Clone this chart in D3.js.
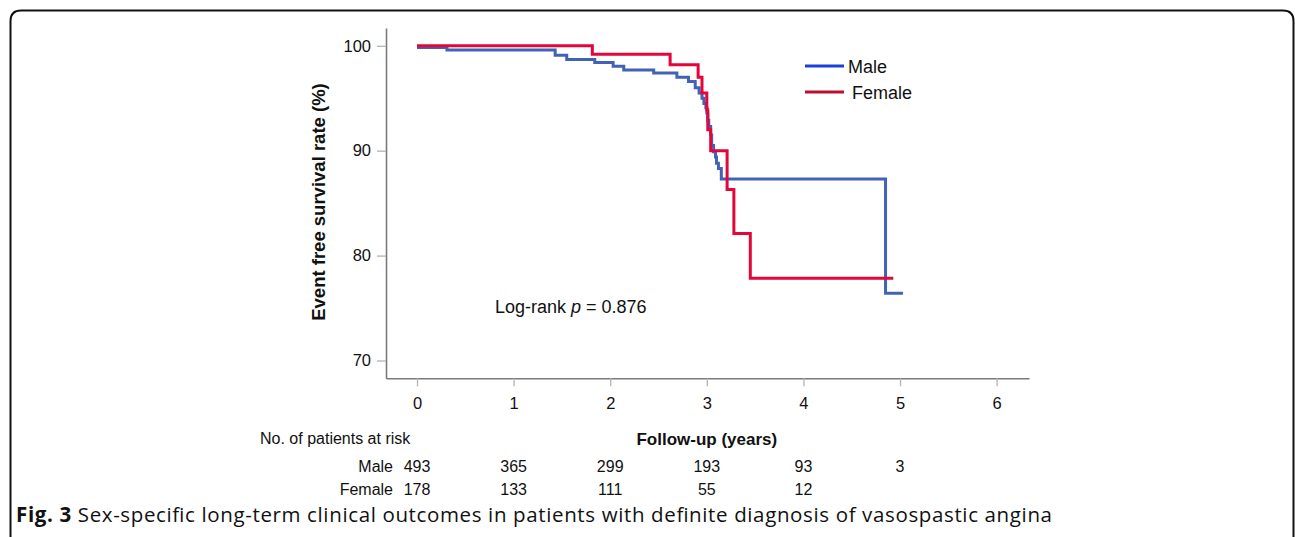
<!DOCTYPE html>
<html>
<head>
<meta charset="utf-8">
<script src="https://cdn.jsdelivr.net/npm/d3@7"></script>
<style>
  html, body { margin: 0; padding: 0; background: #fff; }
  svg { display: block; }
</style>
</head>
<body>
<svg id="chart" width="1295" height="537"></svg>
<script>
// ---- data ----
const maleTimes = [0, 0.31, 1.43, 1.55, 1.84, 2.03, 2.14, 2.45, 2.69, 2.81, 2.88, 2.92, 2.95, 2.97, 2.99, 3.00, 3.01, 3.02, 3.04, 3.05, 3.07, 3.09, 3.10, 3.12, 3.15, 4.85];
const maleSurv  = [99.85, 99.6, 99.1, 98.7, 98.4, 98.05, 97.7, 97.4, 97.0, 96.6, 96.0, 95.5, 95.0, 94.5, 94.1, 93.6, 92.9, 92.3, 91.5, 90.5, 89.9, 89.4, 88.8, 88.3, 87.3, 76.4];
const maleEnd = 5.03;
const femaleTimes = [0, 1.815, 2.62, 2.91, 2.95, 3.00, 3.01, 3.04, 3.21, 3.28, 3.45];
const femaleSurv  = [100, 99.2, 98.2, 97.0, 95.5, 93.9, 92.0, 90.0, 86.3, 82.1, 77.85];
const femaleEnd = 4.93;
const xTicks = [0, 1, 2, 3, 4, 5, 6];
const yTicks = [70, 80, 90, 100];
const riskMale = [493, 365, 299, 193, 93, 3];
const riskFemale = [178, 133, 111, 55, 12];
const seriesNames = ["Male", "Female"];

const svg = d3.select("#chart");
const FONT = "Liberation Sans, Arial, Helvetica, sans-serif";

// frame (open at bottom)
svg.append("path")
  .attr("d", "M10.5,545 L10.5,21 Q10.5,10.5 21,10.5 L1283,10.5 Q1293.5,10.5 1293.5,21 L1293.5,545")
  .attr("fill", "none").attr("stroke", "#111").attr("stroke-width", 2);

const x = d3.scaleLinear().domain([-0.321, 6.335]).range([386, 1029]);
const y = d3.scaleLinear().domain([68.3, 101.7]).range([378.3, 28]);

// y axis
const gy = svg.append("g").attr("transform", "translate(386,0)")
  .call(d3.axisLeft(y).tickValues(yTicks).tickFormat(d3.format("d")).tickSize(9).tickSizeOuter(0).tickPadding(6));
// x axis
const gx = svg.append("g").attr("transform", "translate(0,378.3)")
  .call(d3.axisBottom(x).tickValues(xTicks).tickFormat(d3.format("d")).tickSize(8).tickSizeOuter(0).tickPadding(11));

[gx, gy].forEach(g => {
  g.select(".domain").attr("stroke", "#7a7a7a").attr("stroke-width", 1.6);
  g.selectAll(".tick line").attr("stroke", "#b8b8b8").attr("stroke-width", 1.4);
  g.selectAll(".tick text").attr("fill", "#111").style("font-family", FONT).style("font-size", "16.5px");
});

// axis titles
svg.append("text")
  .attr("transform", "translate(318,202) rotate(-90)")
  .attr("text-anchor", "middle").attr("dominant-baseline", "central")
  .style("font-family", FONT).style("font-weight", "bold").style("font-size", "18.5px")
  .attr("fill", "#111").text("Event free survival rate (%)");

svg.append("text")
  .attr("x", x(3)).attr("y", 445)
  .attr("text-anchor", "middle")
  .style("font-family", FONT).style("font-weight", "bold").style("font-size", "17px")
  .attr("fill", "#111").text("Follow-up (years)");

// curves
const line = d3.line().x(d => x(d[0])).y(d => y(d[1])).curve(d3.curveStepAfter);
function pts(ts, ss, end) {
  const p = ts.map((t, i) => [t, ss[i]]);
  p.push([end, ss[ss.length - 1]]);
  return p;
}
svg.append("path").datum(pts(maleTimes, maleSurv, maleEnd))
  .attr("d", line).attr("fill", "none").attr("stroke", "#4262b5").attr("stroke-width", 3);
svg.append("path").datum(pts(femaleTimes, femaleSurv, femaleEnd))
  .attr("d", line).attr("fill", "none").attr("stroke", "#e2063a").attr("stroke-width", 3);

// legend
const legColors = ["#1a40d8", "#b8102e"];
const legY = [66, 92];
const legTextX = [848, 852];
seriesNames.forEach((n, i) => {
  svg.append("line").attr("x1", 805).attr("x2", 844).attr("y1", legY[i]).attr("y2", legY[i])
    .attr("stroke", legColors[i]).attr("stroke-width", 3);
  svg.append("text").attr("x", legTextX[i]).attr("y", legY[i] + 1)
    .attr("dominant-baseline", "central")
    .style("font-family", FONT).style("font-size", "18px").attr("fill", "#111").text(n);
});

// log-rank
const lr = svg.append("text").attr("x", 495).attr("y", 313)
  .style("font-family", FONT).style("font-size", "18px").attr("fill", "#111");
lr.append("tspan").text("Log-rank ");
lr.append("tspan").style("font-style", "italic").text("p");
lr.append("tspan").text(" = 0.876");

// at-risk table
svg.append("text").attr("x", 260).attr("y", 444)
  .style("font-family", FONT).style("font-size", "16px").attr("fill", "#111")
  .text("No. of patients at risk");
const rows = [riskMale, riskFemale];
const rowY = [472, 495];
rows.forEach((r, i) => {
  svg.append("text").attr("x", 393).attr("y", rowY[i]).attr("text-anchor", "end")
    .style("font-family", FONT).style("font-size", "16px").attr("fill", "#111").text(seriesNames[i]);
  svg.selectAll(null).data(r).enter().append("text")
    .attr("x", (d, j) => x(xTicks[j])).attr("y", rowY[i]).attr("text-anchor", "middle")
    .style("font-family", FONT).style("font-size", "16px").attr("fill", "#111").text(d => d);
});

// caption
const cap = svg.append("text").attr("x", 16).attr("y", 522)
  .attr("textLength", 1036).attr("lengthAdjust", "spacing")
  .style("font-family", "Open Sans, sans-serif").style("font-size", "20.5px").attr("fill", "#111");
cap.append("tspan").style("font-weight", "bold").text("Fig. 3");
cap.append("tspan").text(" Sex-specific long-term clinical outcomes in patients with definite diagnosis of vasospastic angina");
</script>
</body>
</html>
